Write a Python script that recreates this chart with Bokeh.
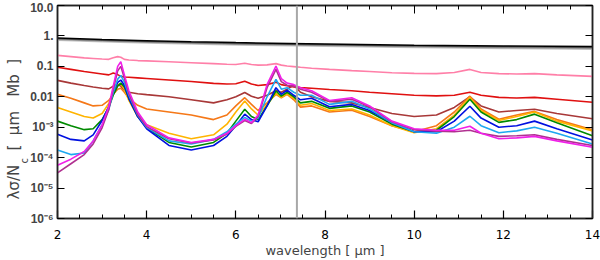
import numpy as np
from bokeh.plotting import figure
from bokeh.models import (Range1d, FixedTicker, LogAxis, LinearAxis, Span, Title,
                          CustomLabelingPolicy)
from bokeh.embed import file_html
from bokeh.resources import INLINE

# ---------------- data (log10 of lambda*sigma/Nc) ----------------
WAVELENGTH = [2.0, 2.3, 2.6, 2.8, 3.0, 3.15, 3.25, 3.35, 3.42, 3.5, 3.6, 3.8, 4.0, 4.5,
              5.0, 5.5, 5.8, 6.0, 6.2, 6.35, 6.5, 6.7, 6.9, 7.02, 7.15, 7.3, 7.45, 7.7,
              8.1, 8.6, 9.0, 9.5, 10.0, 10.5, 10.9, 11.25, 11.5, 11.9, 12.3, 12.7, 13.2, 14.0]

LOG_PINK = [-0.64, -0.68, -0.72, -0.74, -0.76, -0.77, -0.72, -0.68, -0.70, -0.77, -0.79, -0.81, -0.82, -0.85,
            -0.88, -0.91, -0.93, -0.94, -0.90, -0.94, -0.96, -0.95, -0.91, -0.96, -0.99, -1.01, -1.03, -1.06,
            -1.10, -1.14, -1.17, -1.21, -1.23, -1.24, -1.20, -1.10, -1.20, -1.24, -1.25, -1.24, -1.28, -1.33]
LOG_RED = [-1.03, -1.10, -1.17, -1.21, -1.25, -1.28, -1.22, -1.27, -1.33, -1.35, -1.36, -1.38, -1.40, -1.45,
           -1.50, -1.56, -1.58, -1.57, -1.49, -1.58, -1.63, -1.60, -1.52, -1.60, -1.64, -1.68, -1.70, -1.72,
           -1.76, -1.80, -1.85, -1.90, -1.95, -1.97, -1.95, -1.85, -1.95, -2.02, -2.04, -2.02, -2.08, -2.18]
LOG_BROWN = [-1.46, -1.55, -1.63, -1.68, -1.72, -1.74, -1.65, -1.60, -1.65, -1.78, -1.85, -1.90, -1.93, -2.00,
             -2.10, -2.20, -2.10, -2.00, -1.86, -1.98, -2.05, -1.95, -1.80, -1.85, -1.75, -1.62, -1.85, -2.00,
             -2.15, -2.20, -2.35, -2.55, -2.65, -2.60, -2.35, -2.00, -2.30, -2.50, -2.45, -2.41, -2.55, -2.72]
LOG_ORANGE = [-1.92, -2.05, -2.20, -2.30, -2.28, -2.12, -1.92, -1.75, -1.72, -1.85, -2.05, -2.28, -2.40, -2.50,
              -2.60, -2.75, -2.60, -2.30, -2.03, -2.25, -2.45, -2.20, -1.92, -2.03, -1.92, -2.10, -2.34, -2.30,
              -2.50, -2.44, -2.65, -2.95, -3.15, -2.95, -2.50, -1.98, -2.40, -2.74, -2.60, -2.48, -2.75, -3.08]
LOG_GOLD = [-2.35, -2.50, -2.65, -2.70, -2.55, -2.22, -1.85, -1.60, -1.58, -1.75, -2.12, -2.65, -2.92, -3.20,
            -3.38, -3.25, -2.90, -2.50, -2.14, -2.40, -2.60, -2.25, -1.88, -2.02, -1.90, -2.05, -2.28, -2.22,
            -2.45, -2.40, -2.60, -2.95, -3.18, -3.05, -2.60, -2.02, -2.45, -2.78, -2.65, -2.50, -2.80, -3.12]
LOG_GREEN = [-2.80, -2.95, -3.08, -3.05, -2.75, -2.35, -1.95, -1.65, -1.55, -1.68, -2.05, -2.65, -3.02, -3.50,
             -3.65, -3.50, -3.20, -2.80, -2.41, -2.65, -2.75, -2.30, -1.81, -1.98, -1.85, -2.00, -2.20, -2.15,
             -2.38, -2.30, -2.50, -2.90, -3.15, -3.10, -2.65, -2.08, -2.50, -2.84, -2.75, -2.57, -2.85, -3.28]
LOG_BLUE = [-3.23, -3.40, -3.45, -3.25, -2.78, -2.32, -1.85, -1.53, -1.45, -1.62, -2.05, -2.65, -3.05, -3.60,
            -3.75, -3.60, -3.30, -2.95, -2.57, -2.75, -2.82, -2.30, -1.70, -1.92, -1.78, -1.95, -2.10, -2.05,
            -2.33, -2.25, -2.45, -2.85, -3.15, -3.15, -2.80, -2.31, -2.70, -3.00, -2.95, -2.80, -3.05, -3.42]
LOG_SKY = [-3.75, -3.90, -3.85, -3.45, -2.92, -2.42, -1.85, -1.42, -1.30, -1.52, -1.95, -2.60, -3.00, -3.45,
           -3.55, -3.40, -3.15, -2.90, -2.68, -2.80, -2.70, -2.00, -1.43, -1.75, -1.70, -1.85, -1.95, -1.95,
           -2.25, -2.15, -2.40, -2.85, -3.15, -3.20, -3.00, -2.64, -2.95, -3.18, -3.12, -3.00, -3.20, -3.55]
LOG_PURPLE = [-4.50, -4.20, -3.90, -3.55, -3.02, -2.42, -1.75, -1.15, -1.00, -1.38, -1.90, -2.58, -2.98, -3.38,
              -3.52, -3.42, -3.22, -2.97, -2.78, -2.88, -2.65, -1.70, -1.10, -1.50, -1.62, -1.65, -1.75, -1.85,
              -2.15, -2.08, -2.33, -2.82, -3.08, -3.13, -3.15, -3.10, -3.20, -3.30, -3.28, -3.25, -3.40, -3.60]
LOG_MAGENTA = [-4.25, -4.05, -3.80, -3.45, -2.92, -2.32, -1.65, -1.00, -0.85, -1.28, -1.80, -2.50, -2.92, -3.35,
               -3.50, -3.40, -3.20, -2.95, -2.74, -2.85, -2.60, -1.60, -0.99, -1.40, -1.55, -1.60, -1.70, -1.80,
               -2.12, -2.03, -2.30, -2.80, -3.05, -3.10, -3.10, -2.97, -3.20, -3.38, -3.35, -3.30, -3.45, -3.66]

BLACK_X = [2, 3, 4, 5, 6, 8, 10, 12, 14]
LOG_BLACK = [-0.07, -0.115, -0.155, -0.19, -0.22, -0.265, -0.305, -0.33, -0.35]
LOG_GRAY1 = [-0.095, -0.14, -0.18, -0.215, -0.245, -0.29, -0.33, -0.355, -0.38]
LOG_GRAY2 = [-0.12, -0.165, -0.205, -0.24, -0.27, -0.315, -0.355, -0.385, -0.41]
LOG_GRAY3 = [-0.145, -0.19, -0.23, -0.265, -0.295, -0.34, -0.38, -0.41, -0.44]

VLINE_X = 7.37

X_TICKS = [2, 4, 6, 8, 10, 12, 14]
X_MINOR_STEP = 0.5
Y_TICKS = [1e-6, 1e-5, 1e-4, 1e-3, 1e-2, 1e-1, 1.0, 10.0]
Y_TICK_LABELS = ["10⁻⁶", "10⁻⁵", "10⁻⁴", "10⁻³", "0.01", "0.1", "1.", "10.0"]
X_TITLE = "wavelength [ μm ]"
NB = "\u00a0"
Y_TITLE_MAIN = "λσ/N" + NB * 3 + "[" + NB * 2 + "μm" + NB * 3 + "Mb" + NB * 2 + "]"
Y_TITLE_SUB = "c"

SERIES = [
    ("gray3", LOG_GRAY3, "#c8c8c8"),
    ("gray2", LOG_GRAY2, "#a0a0a0"),
    ("gray1", LOG_GRAY1, "#606060"),
    ("black", LOG_BLACK, "#000000"),
]
COLOR_SERIES = [
    ("pink", LOG_PINK, "#ff7fa8"),
    ("red", LOG_RED, "#e01010"),
    ("brown", LOG_BROWN, "#a83838"),
    ("orange", LOG_ORANGE, "#f57818"),
    ("gold", LOG_GOLD, "#ffb400"),
    ("green", LOG_GREEN, "#008a00"),
    ("blue", LOG_BLUE, "#0010e0"),
    ("sky", LOG_SKY, "#1ea8f0"),
    ("purple", LOG_PURPLE, "#b03090"),
    ("magenta", LOG_MAGENTA, "#f020e8"),
]

# ---------------- figure ----------------
p = figure(width=600, height=260, x_range=Range1d(2, 14), y_range=Range1d(1e-6, 10),
           y_axis_type="log", output_backend="svg", toolbar_location=None,
           min_border_left=57, min_border_right=8, min_border_top=5, min_border_bottom=41)
p.xgrid.visible = False
p.ygrid.visible = False
p.outline_line_color = "#222222"
p.outline_line_width = 1.5
p.background_fill_color = "white"

for name, logs, col in SERIES:
    p.line(BLACK_X, 10 ** np.array(logs), line_color=col, line_width=1.5)

p.add_layout(Span(location=VLINE_X, dimension="height", line_color="#a8a8a8", line_width=2))

for name, logs, col in COLOR_SERIES:
    p.line(WAVELENGTH, 10 ** np.array(logs), line_color=col, line_width=1.6)

minor_x = [float(v) for v in np.arange(X_TICKS[0], X_TICKS[-1] + 1e-9, X_MINOR_STEP)]
xt = FixedTicker(ticks=X_TICKS, minor_ticks=minor_x)
yt = FixedTicker(ticks=Y_TICKS, minor_ticks=[])

font = "DejaVu Sans"
for ax in p.xaxis:
    ax.ticker = xt
    ax.major_tick_in = 8
    ax.major_tick_out = 0
    ax.minor_tick_in = 4
    ax.minor_tick_out = 0
    ax.axis_line_width = 1.5
    ax.axis_line_color = "#222222"
    ax.major_tick_line_width = 1.2
    ax.major_label_text_font = font
    ax.major_label_text_font_size = "12px"
    ax.major_label_text_color = "black"
    ax.major_label_standoff = 11
    ax.axis_label = X_TITLE
    ax.axis_label_text_font = font
    ax.axis_label_text_font_style = "normal"
    ax.axis_label_text_font_size = "13px"
    ax.axis_label_standoff = 1

for ax in p.yaxis:
    ax.ticker = yt
    ax.major_label_overrides = {t: s for t, s in zip(Y_TICKS, Y_TICK_LABELS)}
    ax.major_tick_in = 7
    ax.major_tick_out = 0
    ax.minor_tick_in = 0
    ax.minor_tick_out = 0
    ax.axis_line_width = 1.5
    ax.axis_line_color = "#222222"
    ax.major_label_text_font = "Liberation Sans"
    ax.major_label_text_font_style = "bold"
    ax.major_label_text_font_size = "12px"
    ax.major_label_standoff = 4
    ax.axis_label = None

hide_code = "for (const i of indices) { indices.unset(i) } return indices"
top = LinearAxis(ticker=xt, major_tick_in=8, major_tick_out=0, minor_tick_in=4, minor_tick_out=0,
                 major_label_text_font_size="2px", major_label_standoff=0, axis_line_width=1.5,
                 axis_line_color="#222222", major_label_policy=CustomLabelingPolicy(code=hide_code),
                 major_label_overrides={t: " " for t in X_TICKS})
right = LogAxis(ticker=yt, major_tick_in=7, major_tick_out=0, minor_tick_in=0, minor_tick_out=0,
                major_label_text_font_size="2px", major_label_standoff=0, axis_line_width=1.5,
                axis_line_color="#222222", major_label_policy=CustomLabelingPolicy(code=hide_code),
                major_label_overrides={t: " " for t in Y_TICKS})
p.add_layout(top, "above")
p.add_layout(right, "right")

# y axis title: subscript column tucked against the main text column
sub = Title(text=Y_TITLE_SUB, text_font=font, text_font_size="10px", text_font_style="normal",
            align="left", offset=55, standoff=-8, vertical_align="top")
main = Title(text=Y_TITLE_MAIN, text_font=font, text_font_size="15px", text_font_style="normal",
             align="left", offset=19, standoff=0, vertical_align="bottom")
p.add_layout(sub, "left")
p.add_layout(main, "left")

open("out.html", "w").write(file_html(p, INLINE))
